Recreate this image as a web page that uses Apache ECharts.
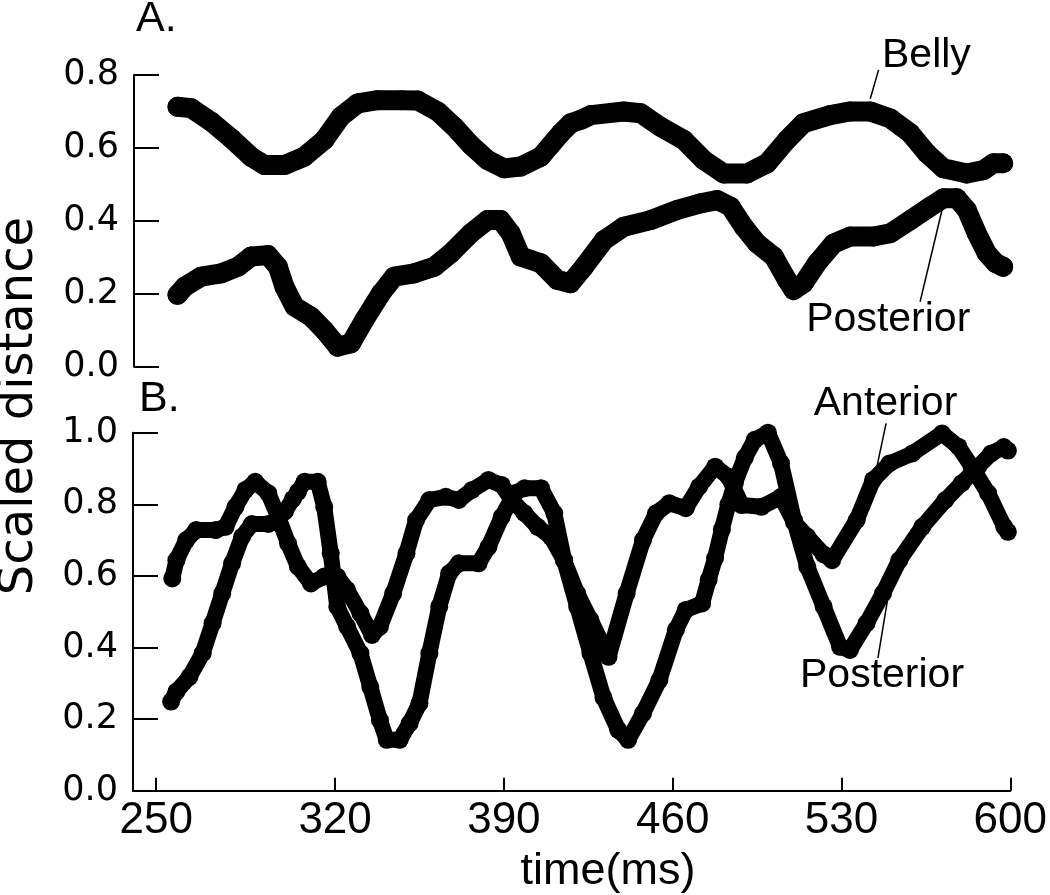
<!DOCTYPE html>
<html><head><meta charset="utf-8">
<script src="https://cdn.jsdelivr.net/npm/echarts@6/dist/echarts.min.js"></script>
<style>html,body{margin:0;padding:0;background:#fff}#c{width:1050px;height:895px}</style>
</head><body><div id="c"></div>
<script>
// ---- tick labels ----
const xTickValues = [245.8, 320, 390, 460, 530, 600];
const xTickLabels = ['250', '320', '390', '460', '530', '600'];

// ---- Panel A: Belly ----
const bellyT = [254.0,259.6,267.8,276.0,284.1,289.6,297.8,305.9,314.1,320.9,327.8,335.9,345.5,352.3,360.5,367.3,374.1,380.9,387.7,394.5,402.7,406.8,410.9,415.0,419.1,423.2,436.7,443.6,451.7,461.3,469.4,477.6,487.2,495.4,503.5,510.3,521.2,529.4,537.6,545.8,554.0,560.8,567.6,577.1,583.9,588.0,592.0];
const bellyV = [0.713,0.709,0.672,0.626,0.576,0.553,0.553,0.576,0.622,0.686,0.722,0.731,0.731,0.730,0.700,0.658,0.608,0.567,0.544,0.549,0.576,0.608,0.640,0.668,0.677,0.690,0.700,0.695,0.658,0.622,0.567,0.530,0.530,0.558,0.622,0.668,0.690,0.700,0.700,0.681,0.640,0.585,0.544,0.530,0.539,0.558,0.558];

// ---- Panel A: Posterior ----
const postAT = [254.0,256.9,263.7,271.9,278.7,284.1,291.0,295.1,297.8,301.9,308.7,314.1,319.6,325.0,330.5,337.3,342.7,350.9,359.1,365.9,374.1,380.9,386.3,390.4,394.5,402.7,409.5,414.9,420.4,428.6,436.7,447.7,458.6,468.1,474.9,480.4,485.8,491.3,498.1,503.5,506.2,510.3,515.8,522.6,529.4,538.9,545.8,554.0,562.2,567.6,573.0,577.1,581.2,585.3,589.0,592.0];
const postAV = [0.197,0.219,0.247,0.256,0.274,0.302,0.306,0.274,0.219,0.165,0.137,0.100,0.055,0.064,0.128,0.201,0.247,0.256,0.274,0.311,0.366,0.402,0.402,0.366,0.302,0.284,0.238,0.229,0.274,0.347,0.384,0.402,0.430,0.448,0.457,0.439,0.384,0.338,0.302,0.238,0.210,0.229,0.284,0.338,0.357,0.357,0.366,0.402,0.439,0.462,0.462,0.430,0.366,0.311,0.284,0.274];

// ---- Panel B: Anterior ----
const antT = [252.5,254.2,258.3,262.4,270.5,274.6,278.7,282.8,286.9,292.3,296.4,300.5,304.6,310.0,315.5,320.9,325.0,330.5,335.3,338.6,344.1,349.6,353.6,359.1,365.9,371.3,376.8,383.6,389.1,393.2,398.6,404.0,409.5,414.9,420.4,425.9,433.4,440.9,447.7,453.1,458.6,465.4,470.9,477.6,483.1,488.6,496.8,504.9,510.3,515.8,522.6,526.1,536.3,543.1,549.9,559.4,571.7,578.5,584.0,590.8,597.5,599.0];
const antV = [0.593,0.644,0.700,0.728,0.728,0.737,0.793,0.840,0.863,0.831,0.765,0.691,0.626,0.579,0.598,0.598,0.561,0.496,0.435,0.458,0.551,0.663,0.756,0.812,0.821,0.812,0.840,0.868,0.854,0.812,0.775,0.737,0.709,0.644,0.551,0.477,0.374,0.551,0.700,0.775,0.803,0.789,0.849,0.905,0.877,0.798,0.793,0.821,0.750,0.710,0.660,0.644,0.756,0.868,0.914,0.942,0.998,0.961,0.905,0.831,0.737,0.723];

// ---- Panel B: Posterior ----
const postBT = [252.0,254.2,259.6,265.1,269.2,273.2,277.3,281.4,285.5,292.3,295.1,299.2,302.5,304.6,307.3,312.8,315.5,318.2,320.9,325.0,330.5,334.6,338.6,341.4,346.8,350.9,355.0,359.1,363.2,367.3,371.3,379.5,383.6,389.1,394.5,398.6,405.4,410.9,415.0,420.4,425.9,431.3,437.4,441.5,447.7,454.5,461.3,465.4,472.2,474.9,477.6,480.4,483.1,485.8,489.9,494.0,499.5,504.9,510.3,515.8,522.6,529.4,533.5,540.4,547.2,554.0,563.5,573.1,579.9,586.7,592.1,597.3,599.0];
const postBV = [0.249,0.277,0.318,0.384,0.468,0.551,0.635,0.709,0.745,0.745,0.750,0.780,0.815,0.835,0.863,0.863,0.793,0.663,0.514,0.458,0.384,0.290,0.197,0.142,0.142,0.188,0.244,0.384,0.514,0.607,0.635,0.635,0.681,0.765,0.831,0.845,0.845,0.775,0.644,0.514,0.384,0.260,0.170,0.142,0.216,0.309,0.449,0.505,0.523,0.589,0.650,0.730,0.800,0.860,0.930,0.980,1.000,0.915,0.756,0.626,0.514,0.402,0.393,0.468,0.551,0.644,0.737,0.812,0.859,0.905,0.942,0.960,0.950];

const zip = (t, v) => t.map((x, i) => [x, v[i]]);

const chart = echarts.init(document.getElementById('c'), null, {renderer: 'canvas'});
const AX = '#000';
const yLabelFont = {color: AX, fontFamily: 'DejaVu Sans', fontSize: 35};
const xLabelFont = {color: AX, fontFamily: '"Liberation Sans Narrow", "Liberation Sans", Arial', fontSize: 44};

function yAxis(grid, max) {
  return {
    type: 'value', gridIndex: grid, min: 0, max: max, interval: 0.2,
    axisLine: {show: true, lineStyle: {color: AX, width: 2}},
    axisTick: {show: true, inside: true, length: 25, lineStyle: {color: AX, width: 2}},
    axisLabel: Object.assign({margin: 15, formatter: v => v.toFixed(1)}, yLabelFont),
    splitLine: {show: false}
  };
}

function lineSeries(grid, data, width, sym) {
  return {
    type: 'line', xAxisIndex: grid, yAxisIndex: grid, data: data,
    symbol: 'circle', symbolSize: sym, showSymbol: true,
    itemStyle: {color: '#000', borderWidth: 0},
    lineStyle: {color: '#000', width: width, cap: 'round', join: 'round'},
    silent: true, z: 3
  };
}

const tickLabelOf = v => {
  let best = 0;
  xTickValues.forEach((t, i) => { if (Math.abs(t - v) < Math.abs(xTickValues[best] - v)) best = i; });
  return xTickLabels[best];
};

chart.setOption({
  animation: false,
  backgroundColor: '#fff',
  grid: [
    {left: 134, right: 27.3, top: 75, height: 291.7},
    {left: 133, right: 27.3, top: 432.7, height: 358}
  ],
  xAxis: [
    {type: 'value', gridIndex: 0, min: 236.2, max: 600, show: false},
    {type: 'value', gridIndex: 1, min: 236.2, max: 600,
     axisLine: {show: true, onZero: false, lineStyle: {color: AX, width: 2}},
     axisTick: {show: true, inside: true, length: 13, customValues: xTickValues, lineStyle: {color: AX, width: 2}},
     axisLabel: Object.assign({margin: 8, customValues: xTickValues, formatter: tickLabelOf}, xLabelFont),
     splitLine: {show: false}}
  ],
  yAxis: [yAxis(0, 0.8), yAxis(1, 1.0)],
  series: [
    lineSeries(0, zip(bellyT, bellyV), 20, 20),
    lineSeries(0, zip(postAT, postAV), 20, 20),
    lineSeries(1, zip(antT, antV), 16, 18),
    lineSeries(1, zip(postBT, postBV), 16, 18)
  ]
});

// ---- annotations (anchored in data units) ----
const annotations = [
  {text: 'Belly', grid: 0, at: [542.4, 0.852], line: [[541.0, 0.814], [537.6, 0.735]]},
  {text: 'Posterior', grid: 0, at: [511.4, 0.130], line: [[567.8, 0.453], [558.0, 0.178]]},
  {text: 'Anterior', grid: 1, at: [518.5, 1.080], line: [[548.5, 1.026], [544.4, 0.896]]},
  {text: 'Posterior', grid: 1, at: [512.8, 0.320], line: [[550.0, 0.570], [545.1, 0.370]]}
];
const annFont = '41px "Liberation Sans", Arial, sans-serif';
const graphics = [];
annotations.forEach(a => {
  const p = chart.convertToPixel({gridIndex: a.grid}, a.at);
  graphics.push({type: 'text', x: p[0], y: p[1], z: 10,
    style: {text: a.text, font: annFont, fill: '#000', align: 'left', verticalAlign: 'middle'}});
  const p1 = chart.convertToPixel({gridIndex: a.grid}, a.line[0]);
  const p2 = chart.convertToPixel({gridIndex: a.grid}, a.line[1]);
  graphics.push({type: 'line', z: 10,
    shape: {x1: p1[0], y1: p1[1], x2: p2[0], y2: p2[1]},
    style: {stroke: '#000', lineWidth: 1.5}});
});
graphics.push({type: 'text', x: 136, y: 19,
  style: {text: 'A.', font: '43px "Liberation Sans", Arial', fill: '#000', align: 'left', verticalAlign: 'middle'}});
graphics.push({type: 'text', x: 139, y: 399,
  style: {text: 'B.', font: '43px "Liberation Sans", Arial', fill: '#000', align: 'left', verticalAlign: 'middle'}});
graphics.push({type: 'text', x: 20, y: 406, rotation: Math.PI / 2,
  style: {text: 'Scaled distance', font: '48px "DejaVu Sans", sans-serif', fill: '#000', align: 'center', verticalAlign: 'middle'}});
graphics.push({type: 'text', x: 608, y: 872,
  style: {text: 'time(ms)', font: '45px "Liberation Sans", Arial', fill: '#000', align: 'center', verticalAlign: 'middle'}});
chart.setOption({graphic: graphics});
</script></body></html>
